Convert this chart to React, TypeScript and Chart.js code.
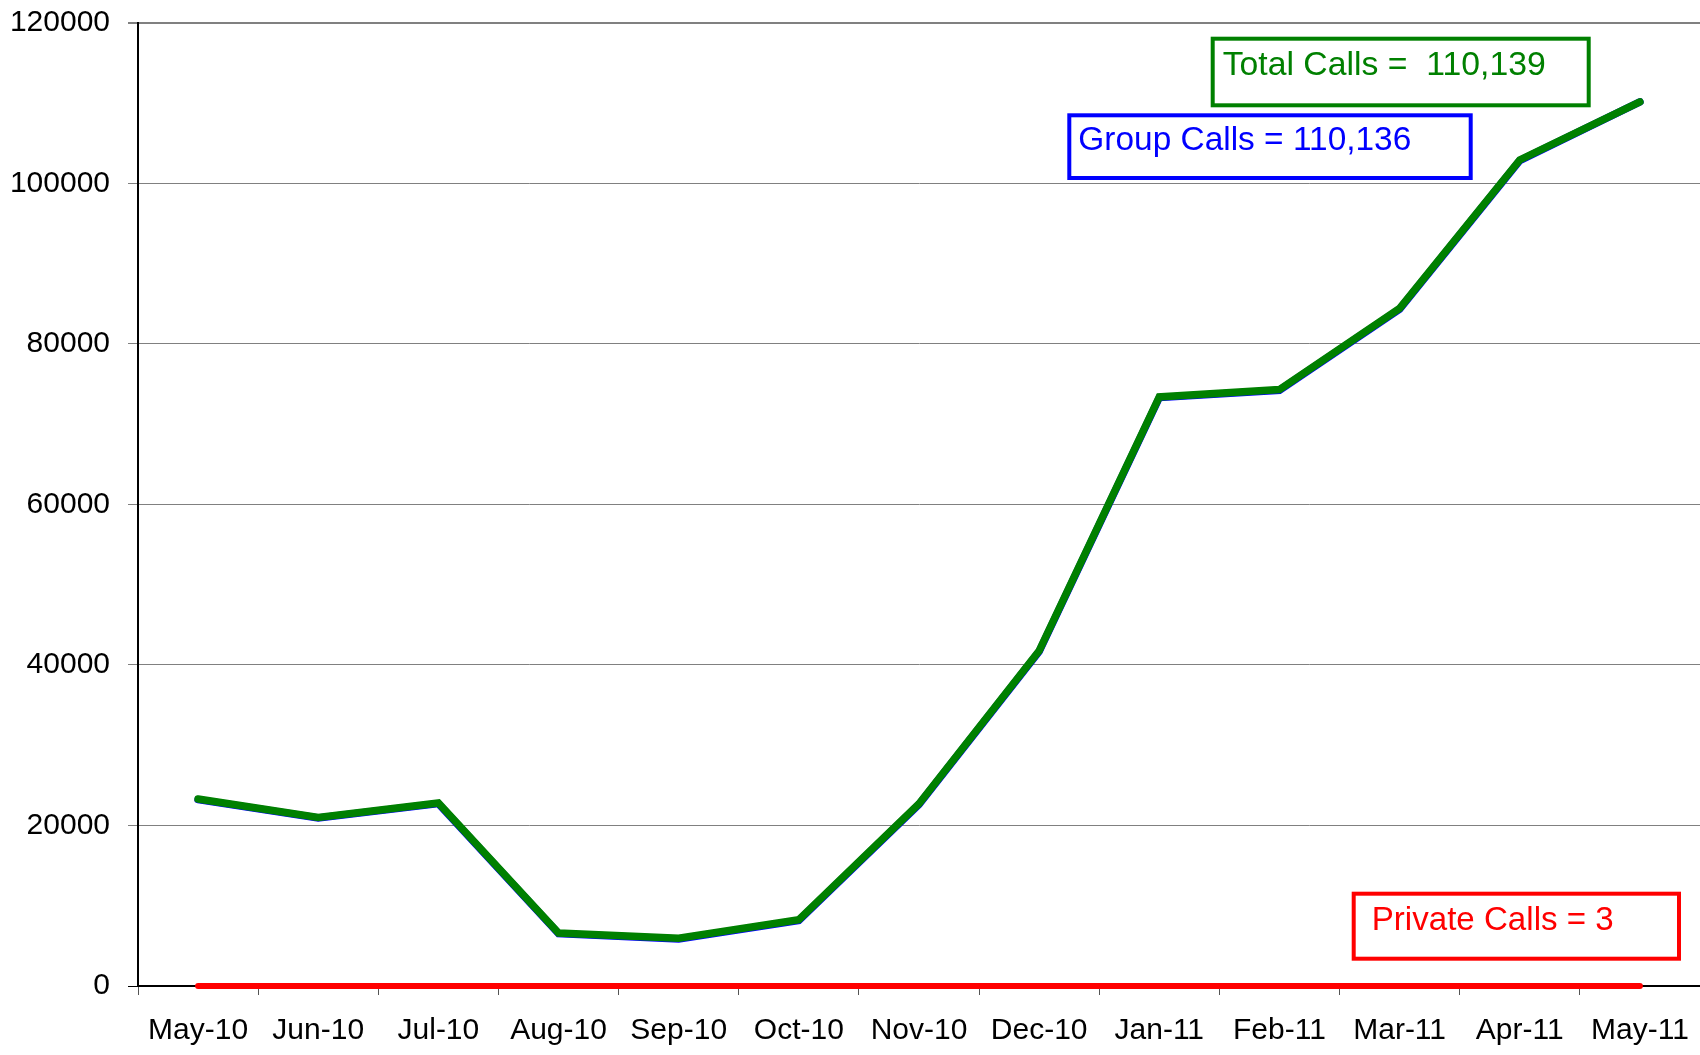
import React, { useEffect, useRef } from "react";
import { Chart, registerables } from "chart.js";

Chart.register(...registerables);

const months = ["May-10", "Jun-10", "Jul-10", "Aug-10", "Sep-10", "Oct-10", "Nov-10", "Dec-10", "Jan-11", "Feb-11", "Mar-11", "Apr-11", "May-11"];
const totalCalls = [23300, 21000, 22800, 6600, 5950, 8250, 22700, 41750, 73380, 74300, 84400, 102900, 110139];
const groupCalls = [23220, 20920, 22720, 6520, 5870, 8170, 22620, 41670, 73300, 74220, 84320, 102820, 110136];
const privateCalls = [1, 0, 0, 1, 0, 0, 0, 0, 1, 0, 0, 0, 0];
const yTicks = [0, 20000, 40000, 60000, 80000, 100000, 120000];

const notes = [
  { text: "Total Calls =  110,139", color: "#008000", box: [1212.7, 38.7, 376, 66.6], tx: 1222.7, ty: 75, w: 323 },
  { text: "Group Calls = 110,136", color: "#0000FF", box: [1069.3, 115.3, 401.4, 62.7], tx: 1078.3, ty: 150, w: 333 },
  { text: "Private Calls = 3", color: "#FF0000", box: [1353.7, 893.7, 325.3, 65], tx: 1371.7, ty: 930, w: 242 },
];

const FONT = "'Liberation Sans', Arial, sans-serif";

const notePlugin = {
  id: "notes",
  afterDatasetsDraw(chart: any) {
    const ctx = chart.ctx;
    ctx.save();
    for (const n of notes) {
      ctx.strokeStyle = n.color;
      ctx.lineWidth = 4;
      ctx.strokeRect(n.box[0], n.box[1], n.box[2], n.box[3]);
      ctx.font = `33px ${FONT}`;
      ctx.fillStyle = n.color;
      ctx.textBaseline = "alphabetic";
      ctx.textAlign = "left";
      const mw = ctx.measureText(n.text).width;
      ctx.save();
      ctx.translate(n.tx, n.ty);
      ctx.scale(n.w / mw, 1);
      ctx.fillText(n.text, 0, 0);
      ctx.restore();
    }
    ctx.restore();
  },
};

export default function App() {
  const ref = useRef<HTMLCanvasElement>(null);
  useEffect(() => {
    if (!ref.current) return;
    const chart = new Chart(ref.current, {
      type: "line",
      data: {
        labels: months,
        datasets: [
          { label: "Total Calls", data: totalCalls, borderColor: "#008000", borderWidth: 7.5, pointRadius: 0, tension: 0, borderCapStyle: "round", fill: false },
          { label: "Group Calls", data: groupCalls, borderColor: "#0000FF", borderWidth: 7.5, pointRadius: 0, tension: 0, borderCapStyle: "round", fill: false },
          { label: "Private Calls", data: privateCalls, borderColor: "#FF0000", borderWidth: 6, pointRadius: 0, tension: 0, borderCapStyle: "round", fill: false, clip: 10 },
        ],
      },
      options: {
        responsive: false,
        animation: false,
        devicePixelRatio: 1,
        layout: { padding: { top: 22.7, right: 0, left: 0, bottom: 0 } },
        plugins: { legend: { display: false }, tooltip: { enabled: false } },
        scales: {
          x: {
            offset: true,
            grid: { drawOnChartArea: false, offset: true, tickLength: 9, color: "#555555", lineWidth: 1 },
            border: { color: "#000000", width: 1.5 },
            ticks: { color: "#000000", font: { family: FONT, size: 30 }, padding: 18, maxRotation: 0, autoSkip: false },
            afterFit: (s: any) => { s.height = 69; s.paddingLeft = 0; s.paddingRight = 0; },
          },
          y: {
            min: 0,
            max: 120000,
            afterBuildTicks: (s: any) => { s.ticks = yTicks.map((v) => ({ value: v })); },
            grid: {
              color: (c: any) => (c.tick && c.tick.value === 0 ? "#000000" : "#808080"),
              lineWidth: (c: any) => (c.tick && c.tick.value === 120000 ? 2 : 1),
              tickLength: 10,
            },
            border: { color: "#000000", width: 2 },
            ticks: { color: "#000000", font: { family: FONT, size: 30 }, padding: 18, callback: (v: any) => String(v) },
            afterFit: (s: any) => { s.width = 138; s.paddingTop = 0; s.paddingBottom = 0; },
          },
        },
      },
      plugins: [notePlugin],
    } as any);
    return () => chart.destroy();
  }, []);
  return (
    <div style={{ position: "fixed", left: 0, top: 0, width: 1700, height: 1055, background: "#fff" }}>
      <canvas ref={ref} width={1700} height={1055} style={{ width: 1700, height: 1055, display: "block" }} />
    </div>
  );
}
